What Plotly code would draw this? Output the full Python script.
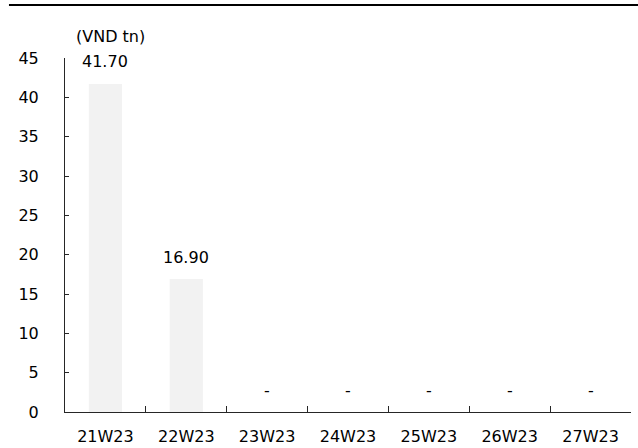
import plotly.graph_objects as go

categories = ["21W23", "22W23", "23W23", "24W23", "25W23", "26W23", "27W23"]
values = [41.70, 16.90, 0, 0, 0, 0, 0]
labels = ["41.70", "16.90", "-", "-", "-", "-", "-"]
y_ticks = [0, 5, 10, 15, 20, 25, 30, 35, 40, 45]
unit_label = "(VND tn)"

FONT = "DejaVu Sans"
FS = 16

fig = go.Figure()
fig.add_trace(go.Bar(
    x=categories, y=values,
    marker=dict(color="#f2f2f2", line=dict(width=0)),
    hoverinfo="skip",
))

for c, v, t in zip(categories, values, labels):
    fig.add_annotation(x=c, y=v, text=t, showarrow=False, yshift=22,
                       yanchor="middle",
                       font=dict(family=FONT, size=FS, color="#000000"),
                       xref="x", yref="y")

fig.add_annotation(x=0.081, y=1.062, xref="paper", yref="paper", text=unit_label,
                   xanchor="center", yanchor="middle",
                   showarrow=False, font=dict(family=FONT, size=FS, color="#000000"))

fig.add_shape(type="line", xref="paper", yref="paper", x0=-0.099, x1=1.02,
              y0=1.1497, y1=1.1497, line=dict(color="#000000", width=2))

fig.update_layout(
    width=638, height=448,
    margin=dict(l=65, r=7, t=58, b=36, autoexpand=False),
    paper_bgcolor="white", plot_bgcolor="white",
    bargap=0.59,
    showlegend=False,
    font=dict(family=FONT, size=FS, color="#000000"),
    xaxis=dict(
        showline=True, linecolor="#262626", linewidth=1,
        ticks="inside", tickson="boundaries", ticklen=6, tickcolor="#262626",
        showgrid=False, tickfont=dict(family=FONT, size=FS, color="#000000"),
        ticklabelstandoff=10, automargin=False,
    ),
    yaxis=dict(
        range=[0, 45], tickvals=y_ticks,
        showline=True, linecolor="#262626", linewidth=1,
        ticks="inside", ticklen=4, tickcolor="#262626",
        showgrid=False, zeroline=False,
        tickfont=dict(family=FONT, size=FS, color="#000000"),
        ticklabelstandoff=22, automargin=False,
    ),
)

fig.write_html("out.html")
